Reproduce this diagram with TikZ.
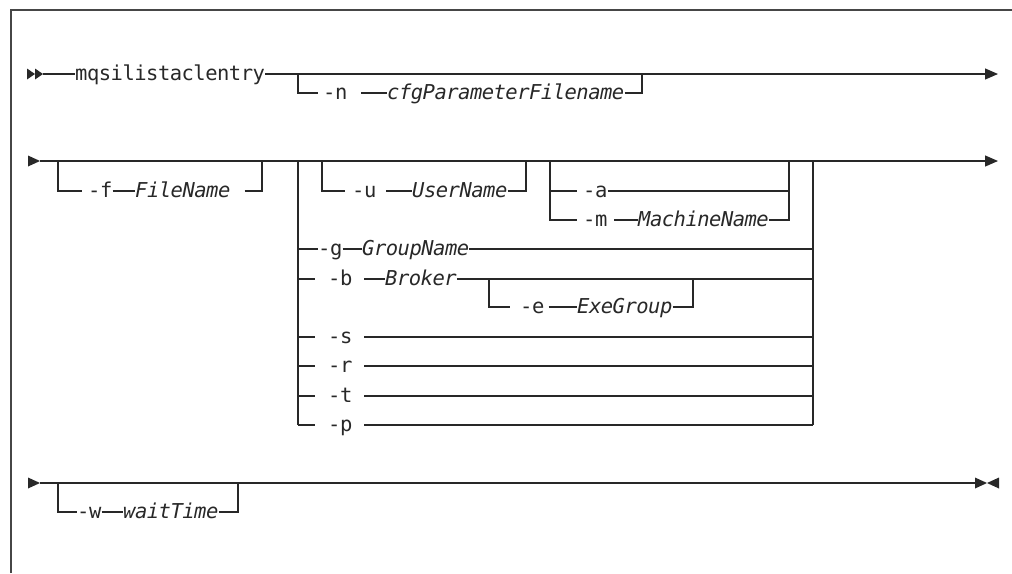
\documentclass[tikz,border=0pt]{standalone}
\usepackage{fontspec}
\setmonofont{DejaVu Sans Mono}[LetterSpace=-2.5]
\usetikzlibrary{arrows.meta}
\definecolor{rrink}{RGB}{40,40,40}
\definecolor{rrframe}{RGB}{70,70,70}
\newcommand{\rrfont}{\ttfamily\fontsize{20.5}{21}\selectfont}
\tikzset{
  rrline/.style={draw=rrink, line width=1.2pt},
  rrend/.style={-{Triangle[length=13pt,width=11pt]}},
  kw/.style={font=\rrfont, text=rrink, inner sep=0pt, anchor=west,
             text height=15pt, text depth=3pt},
  var/.style={kw, font=\rrfont\itshape},
  rrbox/.style={draw=rrframe, line width=1.6pt},
}
% filled marker pointing right / left, #1 = left edge, #2 = line, #3 = width
\newcommand{\rrtri}[3]{\fill[rrink] (#1,#2-5.5) -- ++(#3,5.5) -- ++(-#3,5.5) -- cycle;}
\newcommand{\rrtrl}[3]{\fill[rrink] (#1+#3,#2-5.5) -- ++(-#3,5.5) -- ++(#3,5.5) -- cycle;}
\begin{document}
\begin{tikzpicture}[x=1pt, y=-1pt]
  \useasboundingbox (0,0) rectangle (1012,573);
  \draw[rrbox] (11,573) -- (11,10) -- (1012,10);

  % row 1
  \rrtri{27}{74}{8}\rrtri{35}{74}{8}
  \coordinate (r1s) at (43,74);
  \coordinate (r1e) at (998,74);
  \coordinate (j1a) at (298,74);
  \coordinate (j1b) at (642,74);
  \node[kw] (cmd) at (75,74) {mqsilistaclentry};
  \node[kw] (optN) at (323,93) {-n};
  \node[var] (cfgFile) at (387,93) {cfgParameterFilename};
  \draw[rrline] (r1s) -- (cmd.west);
  \draw[rrline, rrend] (cmd.east) -- (r1e);
  \draw[rrline] (j1a) |- ([xshift=-5pt]optN.west);
  \draw[rrline] ([xshift=13.5pt]optN.east) -- (cfgFile.west);
  \draw[rrline] (cfgFile.east) -| (j1b);

  % row 2
  \rrtri{28}{161}{12}
  \coordinate (r2s) at (40,161);
  \coordinate (r2e) at (998,161);
  \draw[rrline, rrend] (r2s) -- (r2e);
  % -f FileName
  \coordinate (jfa) at (58,161);
  \coordinate (jfb) at (262,161);
  \node[kw] (optF) at (88,191) {-f};
  \node[var] (fileName) at (135,191) {FileName};
  \draw[rrline] (jfa) |- ([xshift=-6pt]optF.west);
  \draw[rrline] (optF.east) -- (fileName.west);
  \draw[rrline] ([xshift=14pt]fileName.east) -| (jfb);
  % -u UserName
  \coordinate (jua) at (322,161);
  \coordinate (jub) at (526,161);
  \node[kw] (optU) at (352,191) {-u};
  \node[var] (userName) at (412,191) {UserName};
  \draw[rrline] (jua) |- ([xshift=-7pt]optU.west);
  \draw[rrline] ([xshift=9.5pt]optU.east) -- (userName.west);
  \draw[rrline] (userName.east) -| (jub);
  % -a | -m MachineName
  \coordinate (jma) at (550,161);
  \coordinate (jmb) at (789,161);
  \node[kw] (optA) at (583,191) {-a};
  \node[kw] (optM) at (583,220) {-m};
  \node[var] (machName) at (638,220) {MachineName};
  \draw[rrline] (jma) |- ([xshift=-6pt]optM.west);
  \draw[rrline] (jma |- optA.west) -- ([xshift=-6pt]optA.west);
  \draw[rrline] (optA.east) -- (jmb |- optA.west);
  \draw[rrline] ([xshift=6.5pt]optM.east) -- (machName.west);
  \draw[rrline] (machName.east) -| (jmb);
  % choice group
  \coordinate (jga) at (298,161);
  \coordinate (jgb) at (813,161);
  \node[kw] (optG) at (318,249) {-g};
  \node[var] (groupName) at (362,249) {GroupName};
  \draw[rrline] (jga |- optG.west) -- (optG.west);
  \draw[rrline] (optG.east) -- (groupName.west);
  \draw[rrline] (groupName.east) -- (jgb |- groupName.west);
  \node[kw] (optB) at (328,279) {-b};
  \node[var] (broker) at (385,279) {Broker};
  \draw[rrline] (jga |- optB.west) -- ([xshift=-13pt]optB.west);
  \draw[rrline] ([xshift=11.5pt]optB.east) -- (broker.west);
  \draw[rrline] (broker.east) -- (jgb |- broker.west);
  % -e ExeGroup
  \coordinate (jea) at (489,279);
  \coordinate (jeb) at (693,279);
  \node[kw] (optE) at (520,307) {-e};
  \node[var] (exeGroup) at (577,307) {ExeGroup};
  \draw[rrline] (jea) |- ([xshift=-10pt]optE.west);
  \draw[rrline] ([xshift=4pt]optE.east) -- (exeGroup.west);
  \draw[rrline] (exeGroup.east) -| (jeb);
  \foreach \o/\yy in {s/337,r/366,t/396,p/425}{
    \node[kw] (opt\o) at (328,\yy) {-\o};
    \draw[rrline] (jga |- opt\o.west) -- ([xshift=-13pt]opt\o.west);
    \draw[rrline] ([xshift=11.5pt]opt\o.east) -- (jgb |- opt\o.west);
  }
  \draw[rrline] (jga) -- (jga |- optp.west);
  \draw[rrline] (jgb) -- (jgb |- optp.west);

  % row 3
  \rrtri{28}{483}{12}
  \coordinate (r3s) at (40,483);
  \coordinate (r3e) at (975,483);
  \draw[rrline] (r3s) -- (r3e);
  \draw[rrline, line width=2.4pt] (244,483) -- (267,483);
  \rrtri{975}{483}{12}\rrtrl{987}{483}{12}
  % -w waitTime
  \coordinate (jwa) at (58,483);
  \coordinate (jwb) at (238,483);
  \node[kw] (optW) at (77,512) {-w};
  \node[var] (waitTime) at (123,512) {waitTime};
  \draw[rrline] (jwa) |- (optW.west);
  \draw[rrline] (optW.east) -- (waitTime.west);
  \draw[rrline] (waitTime.east) -| (jwb);
\end{tikzpicture}
\end{document}
